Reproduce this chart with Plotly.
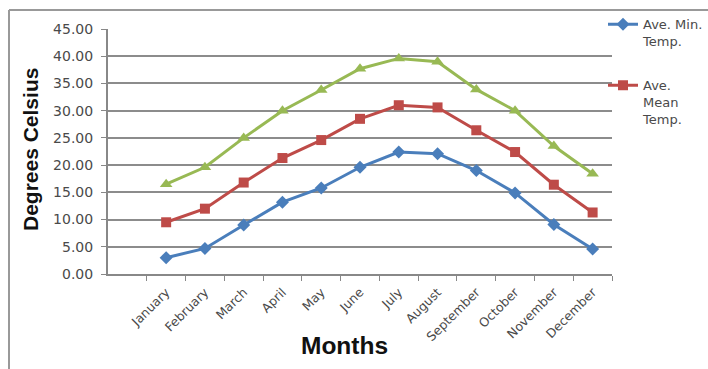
import plotly.graph_objects as go

months = ["January", "February", "March", "April", "May", "June", "July",
          "August", "September", "October", "November", "December"]
ave_min = [3.0, 4.7, 9.0, 13.2, 15.8, 19.6, 22.4, 22.1, 19.0, 14.9, 9.1, 4.6]
ave_mean = [9.5, 12.0, 16.8, 21.3, 24.6, 28.5, 31.0, 30.6, 26.4, 22.4, 16.4, 11.3]
ave_max = [16.5, 19.6, 25.0, 30.0, 33.8, 37.7, 39.6, 39.0, 33.9, 30.0, 23.5, 18.4]
y_ticks = [0, 5, 10, 15, 20, 25, 30, 35, 40, 45]

BLUE = "#4A7EBB"
RED = "#BE4B48"
GREEN = "#98B954"
TEXT = "#4a4a4a"
TICK_FONT = "DejaVu Sans, Verdana, sans-serif"
TITLE_FONT = "Liberation Sans, Arial, sans-serif"

W, H = 708, 369
ML, MT, MB = 108, 29, 95
PLOT_RIGHT = 612          # right edge of the plotting area, px
X_END = (PLOT_RIGHT - ML) / (W - ML)   # x-axis domain end (room for the legend)
LEGEND_X = (603 - ML) / (W - ML)

fig = go.Figure()
fig.add_trace(go.Scatter(
    x=months, y=ave_min, name="Ave. Min.<br>Temp.", mode="lines+markers",
    line=dict(color=BLUE, width=3),
    marker=dict(symbol="diamond", size=10, color=BLUE),
    legendgroup="a"))
fig.add_trace(go.Scatter(
    x=months, y=ave_mean, name="Ave.<br>Mean<br>Temp.", mode="lines+markers",
    line=dict(color=RED, width=3),
    marker=dict(symbol="square", size=10, color=RED),
    legendgroup="b"))
fig.add_trace(go.Scatter(
    x=months, y=ave_max, name="Ave. Max.<br>Temp.", mode="lines+markers",
    line=dict(color=GREEN, width=3),
    marker=dict(symbol="triangle-up", size=11, color=GREEN),
    showlegend=False))

fig.update_layout(
    width=W, height=H,
    margin=dict(l=ML, r=0, t=MT, b=MB, autoexpand=False),
    paper_bgcolor="white", plot_bgcolor="white",
    font=dict(family=TICK_FONT, color=TEXT),
    legend=dict(x=LEGEND_X, y=1.08, xanchor="left", yanchor="top",
                valign="top", tracegroupgap=24, itemwidth=30,
                font=dict(size=13, color=TEXT),
                bgcolor="rgba(0,0,0,0)"),
    xaxis=dict(
        domain=[0, X_END],
        type="category", categoryorder="array", categoryarray=months,
        range=[-1.5, 11.5], tickangle=-45, tickfont=dict(size=12.5),
        ticks="outside", tickson="boundaries", ticklen=5, tickcolor="#888888",
        ticklabelstandoff=4,
        showline=True, linecolor="#888888", linewidth=2, showgrid=False),
    yaxis=dict(
        range=[0, 45], tickvals=y_ticks, tickformat=".2f",
        tickfont=dict(size=14), ticks="outside", ticklen=5, tickcolor="#888888",
        ticklabelstandoff=5,
        showline=True, linecolor="#888888", linewidth=2,
        showgrid=True, gridcolor="#8c8c8c", gridwidth=1.5, zeroline=False),
)

# axis titles
fig.add_annotation(text="<b>Months</b>", xref="x domain", yref="paper",
                   x=0.47, y=-0.29, xanchor="center", yanchor="middle",
                   showarrow=False,
                   font=dict(family=TITLE_FONT, size=24.5, color="#111111"))
fig.add_annotation(text="<b>Degrees Celsius</b>", xref="paper", yref="paper",
                   x=(30 - ML) / (W - ML), y=0.506, xanchor="center", yanchor="middle",
                   textangle=-90, showarrow=False,
                   font=dict(family=TITLE_FONT, size=21, color="#111111"))

# frame edges along the top and left of the chart
frame_x = (9 - ML) / (W - ML)
fig.add_shape(type="line", xref="paper", yref="paper", x0=frame_x, x1=1.05,
              y0=1.078, y1=1.078, line=dict(color="#999999", width=2))
fig.add_shape(type="line", xref="paper", yref="paper", x0=frame_x, x1=frame_x,
              y0=1.078, y1=-0.4, line=dict(color="#999999", width=2))

fig.write_html("out.html")
